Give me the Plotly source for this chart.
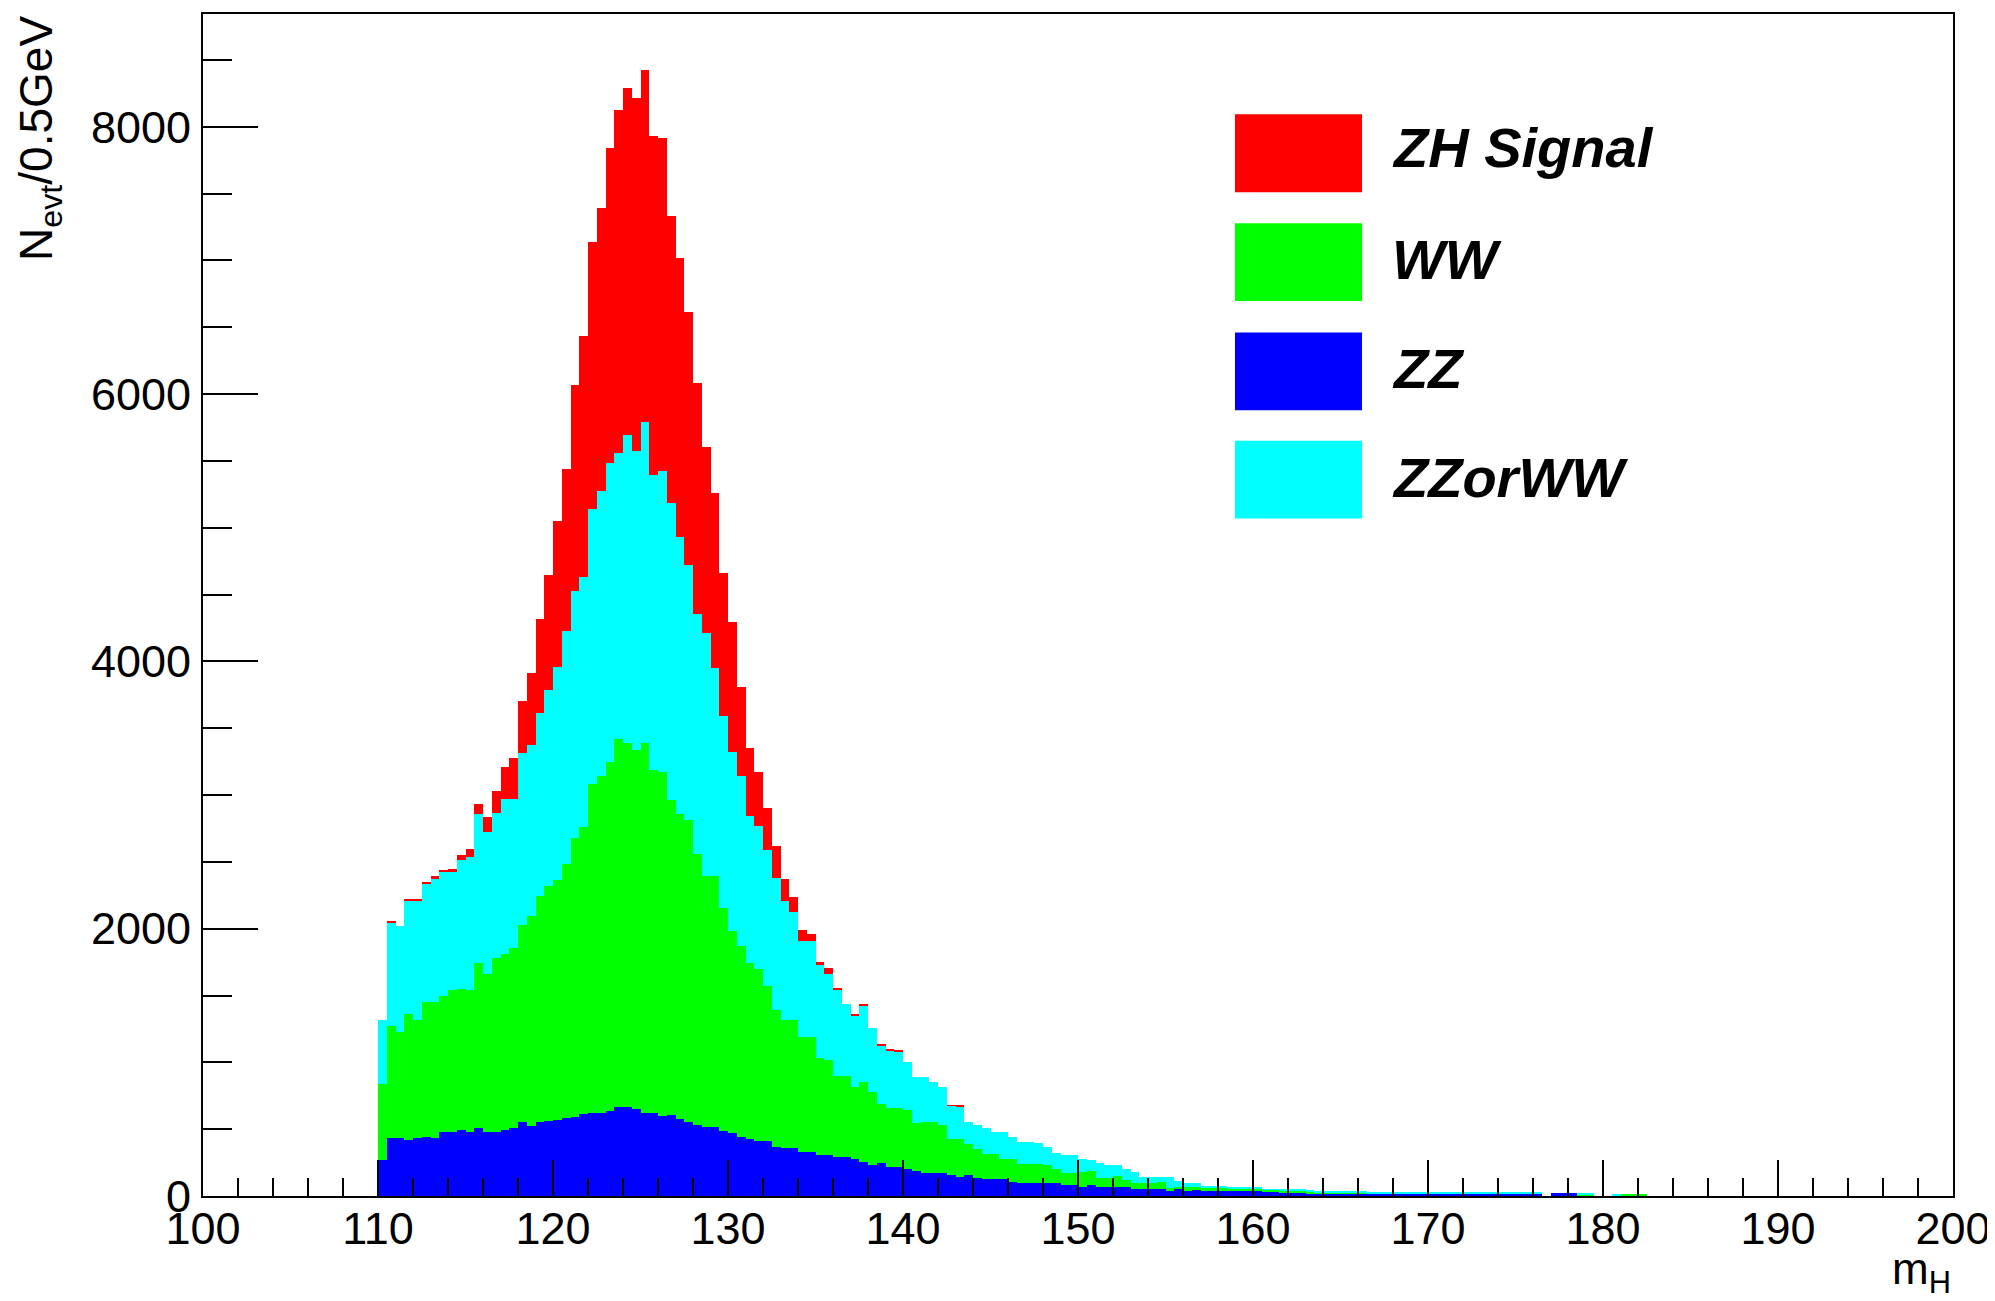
import plotly.graph_objects as go

# Histogram binning (GeV)
bin_low = 110.0
bin_width = 0.5

# Per-bin event counts (stack order bottom -> top)
zz = [271, 437, 437, 422, 437, 445, 437, 480, 480, 495,
      480, 509, 480, 480, 495, 509, 553, 524, 553, 560,
      570, 585, 590, 610, 623, 623, 637, 664, 664, 650,
      623, 623, 596, 603, 574, 556, 528, 515, 515, 488,
      474, 445, 427, 411, 408, 370, 356, 356, 331, 331,
      306, 306, 289, 289, 274, 256, 232, 244, 214, 214,
      199, 189, 174, 174, 169, 160, 144, 157, 137, 127,
      127, 127, 107, 100, 100, 100, 95, 95, 82, 82,
      70, 82, 65, 65, 65, 65, 50, 50, 50, 50,
      40, 57, 40, 45, 40, 40, 40, 40, 40, 35,
      35, 32, 32, 22, 22, 22, 22, 22, 22, 22,
      22, 22, 22, 22, 22, 22, 22, 22, 22, 22,
      22, 22, 22, 22, 22, 22, 22, 22, 22, 22,
      22, 22, 22, 0, 20, 20, 20, 0, 0, 0,
      0, 0, 0, 0, 0, 0]

ww = [567, 835, 791, 937, 878, 1004, 1012, 1013, 1062, 1056,
      1062, 1237, 1179, 1301, 1315, 1345, 1478, 1571, 1688, 1756,
      1792, 1896, 2085, 2153, 2458, 2517, 2607, 2756, 2729, 2689,
      2770, 2561, 2574, 2361, 2281, 2259, 2029, 1879, 1879, 1669,
      1507, 1427, 1313, 1284, 1166, 1019, 959, 959, 859, 859,
      723, 710, 607, 607, 543, 598, 547, 448, 448, 448,
      443, 354, 381, 381, 361, 263, 279, 234, 217, 189,
      189, 152, 172, 141, 141, 141, 137, 104, 92, 92,
      112, 107, 72, 72, 84, 55, 50, 50, 50, 57,
      20, 8, 30, 25, 17, 17, 17, 17, 17, 22,
      22, 13, 13, 18, 18, 18, 13, 3, 3, 3,
      3, 3, 3, 0, 0, 0, 0, 0, 0, 0,
      0, 0, 0, 0, 0, 0, 0, 0, 0, 0,
      0, 0, 0, 0, 0, 0, 0, 8, 8, 0,
      0, 0, 12, 12, 12, 0]

zz_or_ww = [477, 771, 794, 850, 897, 888, 923, 931, 882, 960,
            998, 1112, 1062, 1085, 1164, 1120, 1281, 1281, 1376, 1469,
            1598, 1749, 1855, 1870, 2060, 2134, 2240, 2138, 2298, 2234,
            2401, 2211, 2255, 2224, 2079, 1907, 1795, 1816, 1556, 1432,
            1339, 1271, 1104, 1070, 1018, 987, 891, 809, 717, 717,
            697, 647, 648, 543, 536, 568, 481, 436, 429, 419,
            361, 344, 332, 299, 282, 252, 244, 164, 176, 194,
            165, 202, 161, 165, 165, 154, 138, 121, 134, 134,
            93, 81, 113, 95, 83, 80, 82, 45, 45, 38,
            80, 45, 25, 25, 18, 18, 18, 8, 8, 8,
            8, 5, 5, 10, 10, 10, 5, 15, 15, 15,
            15, 15, 15, 3, 3, 3, 3, 3, 3, 3,
            3, 3, 3, 3, 3, 3, 3, 3, 3, 3,
            3, 3, 3, 0, 0, 0, 0, 8, 8, 0,
            0, 12, 0, 0, 0, 0]

zh_signal = [0, 9, 0, 8, 3, 11, 20, 15, 26, 44,
             59, 72, 116, 166, 236, 300, 395, 538, 704, 863,
             1093, 1210, 1536, 1805, 1997, 2118, 2357, 2566, 2596, 2643,
             2629, 2534, 2493, 2148, 2086, 1893, 1729, 1392, 1309, 1074,
             973, 669, 505, 406, 310, 244, 164, 116, 85, 55,
             27, 45, 15, 0, 12, 12, 0, 12, 5, 10,
             0, 0, 0, 0, 0, 5, 7, 0, 0, 0] + [0] * 76

series_names = ["ZZ", "WW", "ZZorWW", "ZH Signal"]
series_colors = ["#0000ff", "#00ff00", "#00ffff", "#ff0000"]
series_values = [zz, ww, zz_or_ww, zh_signal]

x_ticks = list(range(100, 201, 10))
y_ticks = [0, 2000, 4000, 6000, 8000]

n_bins = len(zz)
centers = [bin_low + bin_width * (i + 0.5) for i in range(n_bins)]

fig = go.Figure()
for name, color, vals in zip(series_names, series_colors, series_values):
    fig.add_trace(go.Bar(
        x=centers, y=vals, width=bin_width, name=name,
        marker=dict(color=color, line=dict(width=0)),
        showlegend=False,
    ))

font_family = "Liberation Sans, Arial, sans-serif"

# the page body adds an 8px offset; margins compensate for it
fig.update_layout(
    width=1995, height=1301,
    margin=dict(l=195, r=50, t=4, b=113),
    paper_bgcolor="white", plot_bgcolor="white",
    barmode="stack", bargap=0,
    font=dict(family=font_family, size=45, color="black"),
    xaxis=dict(
        range=[100, 200], tickvals=x_ticks, ticktext=[str(v) for v in x_ticks],
        ticks="inside", ticklen=36, tickwidth=2, tickcolor="black",
        showline=True, linecolor="black", linewidth=2, mirror=True,
        showgrid=False, zeroline=False,
        minor=dict(dtick=2, tick0=100, ticks="inside", ticklen=18,
                   tickwidth=2, tickcolor="black", showgrid=False),
        tickfont=dict(size=45, family=font_family, color="black"),
        ticklabelstandoff=-8,
    ),
    yaxis=dict(
        range=[0, 8844], tickvals=y_ticks, ticktext=[str(v) for v in y_ticks],
        ticks="inside", ticklen=55, tickwidth=2, tickcolor="black",
        showline=True, linecolor="black", linewidth=2, mirror=True,
        showgrid=False, zeroline=False,
        minor=dict(dtick=500, tick0=0, ticks="inside", ticklen=29,
                   tickwidth=2, tickcolor="black", showgrid=False),
        tickfont=dict(size=45, family=font_family, color="black"),
        ticklabelstandoff=1,
    ),
)

# Axis titles
fig.add_annotation(
    text="N<sub>evt</sub>/0.5GeV", textangle=-90,
    xref="paper", yref="paper", x=-0.0935, y=1.0,
    xanchor="center", yanchor="top", showarrow=False,
    font=dict(size=46, family=font_family, color="black"),
)
fig.add_annotation(
    text="m<sub>H</sub>",
    xref="paper", yref="paper", x=1.0, y=-0.064,
    xanchor="right", yanchor="middle", showarrow=False,
    font=dict(size=44, family=font_family, color="black"),
)

# Legend (drawn manually, ROOT TLegend style)
legend_order = ["ZH Signal", "WW", "ZZ", "ZZorWW"]
legend_colors = {"ZZ": "#0000ff", "WW": "#00ff00", "ZZorWW": "#00ffff", "ZH Signal": "#ff0000"}
row_y = [0.8822, 0.7901, 0.6976, 0.6060]
text_shift = [0.0045, 0.0025, 0.0025, 0.0015]
half_h = 0.0329
for name, yc, dy in zip(legend_order, row_y, text_shift):
    fig.add_shape(type="rect", xref="paper", yref="paper",
                  x0=0.5897, x1=0.6623, y0=yc - half_h, y1=yc + half_h,
                  fillcolor=legend_colors[name], line=dict(width=0))
    fig.add_annotation(
        text="<b><i>" + name + "</i></b>",
        xref="paper", yref="paper", x=0.6783, y=yc + dy,
        xanchor="left", yanchor="middle", showarrow=False,
        font=dict(size=56, family=font_family, color="black"),
    )

fig.write_html("out.html")
